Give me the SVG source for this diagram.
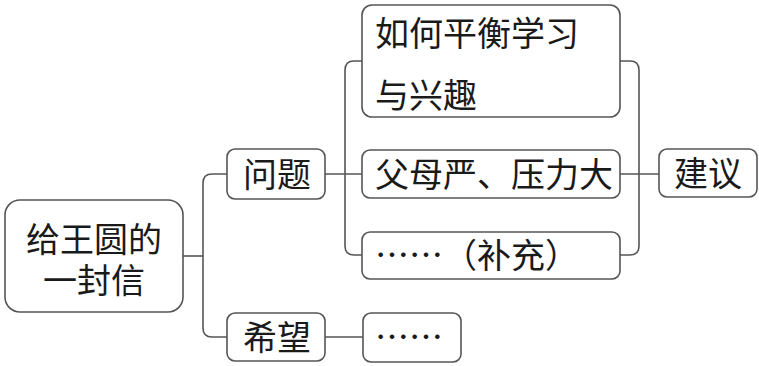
<svg xmlns="http://www.w3.org/2000/svg" width="759" height="366" viewBox="0 0 759 366">
<style>
.box{fill:#fff;stroke:#555;stroke-width:1.6}
.ln{fill:none;stroke:#555;stroke-width:1.6}
text{font-family:"Noto Sans CJK SC","Noto Sans",sans-serif;font-size:34px;fill:#1a1a1a}
.c{text-anchor:middle}
</style>
<rect width="759" height="366" fill="#fff"/>
<g id="connectors">
<path class="ln" d="M183 256 H203"/>
<path class="ln" d="M227 174 H212 Q203 174 203 183 V328 Q203 337 212 337 H227"/>
<path class="ln" d="M325 174 H362"/>
<path class="ln" d="M362 61 H354 Q345 61 345 70 V246 Q345 255 354 255 H362"/>
<path class="ln" d="M620 61 H630 Q639 61 639 70 V246 Q639 255 630 255 H620"/>
<path class="ln" d="M620 174 H659"/>
<path class="ln" d="M325 337 H363"/>
</g>
<g id="root">
<rect class="box" x="5" y="200" width="178" height="112" rx="15"/>
<text class="c" x="94" y="252">给王圆的</text>
<text class="c" x="94" y="293">一封信</text>
</g>
<g id="wenti">
<rect class="box" x="227" y="149" width="98" height="50" rx="8"/>
<text class="c" x="277" y="187">问题</text>
</g>
<g id="xiwang">
<rect class="box" x="227" y="313" width="98" height="48" rx="8"/>
<text class="c" x="277" y="350">希望</text>
</g>
<g id="q1">
<rect class="box" x="362" y="5" width="258" height="112" rx="10"/>
<text x="375" y="46">如何平衡学习</text>
<text x="375" y="108">与兴趣</text>
</g>
<g id="q2">
<rect class="box" x="362" y="150" width="258" height="48" rx="8"/>
<text x="375" y="187">父母严、压力大</text>
</g>
<g id="q3">
<rect class="box" x="362" y="232" width="258" height="47" rx="8"/>
<text x="375" y="268">……（补充）</text>
</g>
<g id="jianyi">
<rect class="box" x="659" y="149" width="98" height="48" rx="8"/>
<text class="c" x="708" y="186">建议</text>
</g>
<g id="hope-item">
<rect class="box" x="363" y="313" width="98" height="49" rx="8"/>
<text x="375" y="350">……</text>
</g>
</svg>
